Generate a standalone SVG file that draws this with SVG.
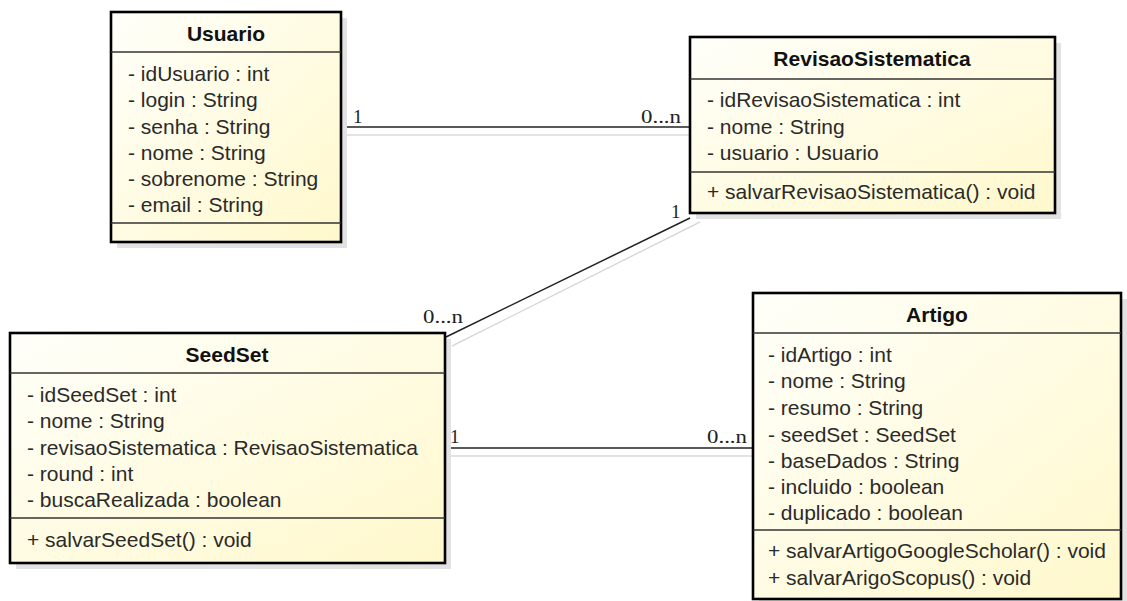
<svg xmlns="http://www.w3.org/2000/svg" width="1127" height="601" viewBox="0 0 1127 601">
<defs>
<linearGradient id="fill" x1="0" y1="0" x2="1" y2="1">
<stop offset="0" stop-color="#fffffa"/>
<stop offset="1" stop-color="#fff8cc"/>
</linearGradient>
</defs>
<style>
.shadow{fill:#e2e2e2}
.box{fill:url(#fill);stroke:#000;stroke-width:2.6}
.sep{stroke:#333;stroke-width:1.4}
.title{font-family:"Liberation Sans",Arial,sans-serif;font-weight:bold;font-size:21px;fill:#111;text-anchor:middle}
.attr{font-family:"Liberation Sans",Arial,sans-serif;font-size:21px;fill:#2a2a2a}
.conn{stroke:#222;stroke-width:1.5;fill:none}
.cshadow{stroke:#dadada;stroke-width:1.5;fill:none}
.mult{font-family:"Liberation Serif","Times New Roman",serif;font-size:19px;fill:#222}
</style>
<g id="connectors">
<line class="cshadow" x1="346" y1="135" x2="700" y2="135"/>
<line class="conn" x1="341" y1="127" x2="690" y2="127"/>
<line class="cshadow" x1="700" y1="222" x2="452" y2="346"/>
<line class="conn" x1="690" y1="218" x2="446" y2="337"/>
<line class="cshadow" x1="450" y1="456" x2="760" y2="456"/>
<line class="conn" x1="445" y1="448" x2="753" y2="448"/>
<text class="mult" x="353" y="123">1</text>
<text class="mult" x="641" y="123" textLength="40" lengthAdjust="spacingAndGlyphs">0...n</text>
<text class="mult" x="671" y="218">1</text>
<text class="mult" x="423" y="323" textLength="40" lengthAdjust="spacingAndGlyphs">0...n</text>
<text class="mult" x="450" y="443">1</text>
<text class="mult" x="707" y="443" textLength="40" lengthAdjust="spacingAndGlyphs">0...n</text>
</g>
<g id="Usuario">
<rect class="shadow" x="117" y="18" width="230" height="230"/>
<rect class="box" x="111" y="12" width="230" height="230"/>
<line class="sep" x1="111" y1="52" x2="341" y2="52"/>
<line class="sep" x1="111" y1="223" x2="341" y2="223"/>
<text class="title" x="226" y="41">Usuario</text>
<text class="attr" x="128" y="81">- idUsuario : int</text>
<text class="attr" x="128" y="107">- login : String</text>
<text class="attr" x="128" y="134">- senha : String</text>
<text class="attr" x="128" y="160">- nome : String</text>
<text class="attr" x="128" y="186">- sobrenome : String</text>
<text class="attr" x="128" y="212">- email : String</text>
</g>
<g id="RevisaoSistematica">
<rect class="shadow" x="696" y="43" width="365" height="176"/>
<rect class="box" x="690" y="37" width="365" height="176"/>
<line class="sep" x1="690" y1="79" x2="1055" y2="79"/>
<line class="sep" x1="690" y1="172" x2="1055" y2="172"/>
<text class="title" x="872" y="66">RevisaoSistematica</text>
<text class="attr" x="707" y="107">- idRevisaoSistematica : int</text>
<text class="attr" x="707" y="134">- nome : String</text>
<text class="attr" x="707" y="160">- usuario : Usuario</text>
<text class="attr" x="707" y="199">+ salvarRevisaoSistematica() : void</text>
</g>
<g id="SeedSet">
<rect class="shadow" x="16" y="339" width="435" height="230"/>
<rect class="box" x="10" y="333" width="435" height="230"/>
<line class="sep" x1="10" y1="373" x2="445" y2="373"/>
<line class="sep" x1="10" y1="518" x2="445" y2="518"/>
<text class="title" x="227" y="362">SeedSet</text>
<text class="attr" x="27" y="402">- idSeedSet : int</text>
<text class="attr" x="27" y="428">- nome : String</text>
<text class="attr" x="27" y="455">- revisaoSistematica : RevisaoSistematica</text>
<text class="attr" x="27" y="481">- round : int</text>
<text class="attr" x="27" y="507">- buscaRealizada : boolean</text>
<text class="attr" x="27" y="547">+ salvarSeedSet() : void</text>
</g>
<g id="Artigo">
<rect class="shadow" x="759" y="299" width="368" height="306"/>
<rect class="box" x="753" y="293" width="368" height="306"/>
<line class="sep" x1="753" y1="333" x2="1121" y2="333"/>
<line class="sep" x1="753" y1="530" x2="1121" y2="530"/>
<text class="title" x="937" y="322">Artigo</text>
<text class="attr" x="768" y="362">- idArtigo : int</text>
<text class="attr" x="768" y="388">- nome : String</text>
<text class="attr" x="768" y="415">- resumo : String</text>
<text class="attr" x="768" y="442">- seedSet : SeedSet</text>
<text class="attr" x="768" y="468">- baseDados : String</text>
<text class="attr" x="768" y="494">- incluido : boolean</text>
<text class="attr" x="768" y="520">- duplicado : boolean</text>
<text class="attr" x="768" y="558">+ salvarArtigoGoogleScholar() : void</text>
<text class="attr" x="768" y="585">+ salvarArigoScopus() : void</text>
</g>
</svg>
